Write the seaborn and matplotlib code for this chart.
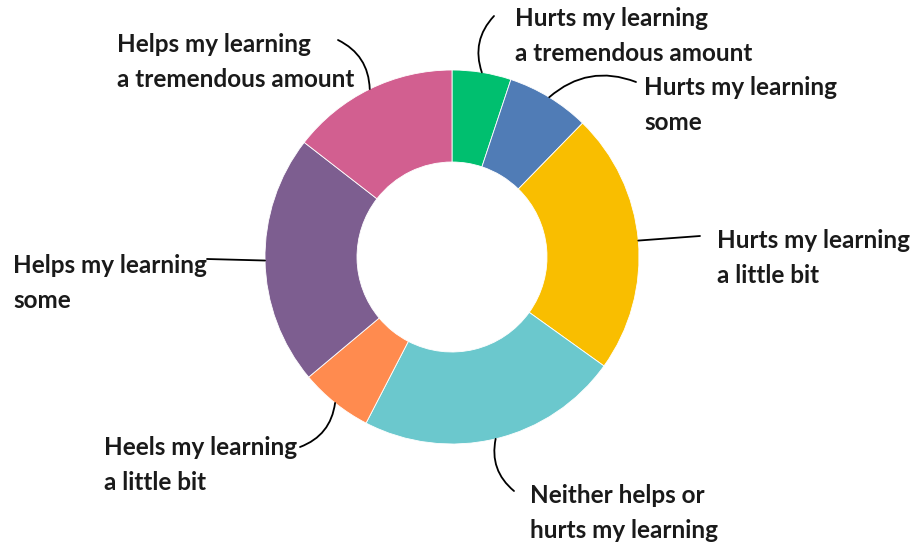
import numpy as np
import matplotlib.pyplot as plt
import seaborn as sns

# Survey answers, clockwise from the top
labels = [
    "Hurts my learning\na tremendous amount",
    "Hurts my learning\nsome",
    "Hurts my learning\na little bit",
    "Neither helps or\nhurts my learning",
    "Heels my learning\na little bit",
    "Helps my learning\nsome",
    "Helps my learning\na tremendous amount",
]
shares = [5.1, 7.2, 22.6, 22.7, 6.3, 21.6, 14.5]
colors = ["#00BF6F", "#507CB6", "#F9BE00", "#6BC8CD", "#FF8B4F", "#7D5E90", "#D25F90"]

sns.set_theme(style="white")
plt.rcParams["font.family"] = ["Lato", "DejaVu Sans"]

W, H = 913, 544
fig = plt.figure(figsize=(W / 100, H / 100), dpi=100)
ax = fig.add_axes([0, 0, 1, 1])

cx, cy, R = 452, H - 257, 187
ax.pie(shares, colors=colors, startangle=90, counterclock=False,
       center=(cx, cy), radius=R, frame=True,
       wedgeprops=dict(width=92, edgecolor="white", linewidth=0.6))
ax.set_xlim(0, W)
ax.set_ylim(0, H)
ax.set_aspect("equal")
ax.axis("off")

# label layout: (leader end x, y in px), (text x, block centre y in px), arc radius
layout = [
    ((494, 16), (515, 36), 0.3),
    ((636, 82), (644, 105), 0.3),
    ((700, 236), (717, 258), 0.0),
    ((514, 491), (530, 513), -0.3),
    ((300, 447), (104, 465), 0.3),
    ((207, 259), (13, 283), 0.0),
    ((338, 40), (117, 62), -0.3),
]

bounds = np.concatenate([[0], np.cumsum(shares)]) / sum(shares) * 360
for i, (lab, (end, txt, rad)) in enumerate(zip(labels, layout)):
    mid = np.deg2rad((bounds[i] + bounds[i + 1]) / 2)
    sx, sy = cx + R * np.sin(mid), cy + R * np.cos(mid)
    ax.annotate("", xy=(sx, sy), xytext=(end[0], H - end[1]),
                arrowprops=dict(arrowstyle="-", color="black", lw=1.3,
                                shrinkA=0, shrinkB=0,
                                connectionstyle=f"arc3,rad={rad}"))
    ax.text(txt[0], H - txt[1], lab, ha="left", va="center",
            fontsize=17.5, fontweight="bold", color="#1a1a1a",
            linespacing=1.6)

fig.savefig("out.png", dpi=100)
